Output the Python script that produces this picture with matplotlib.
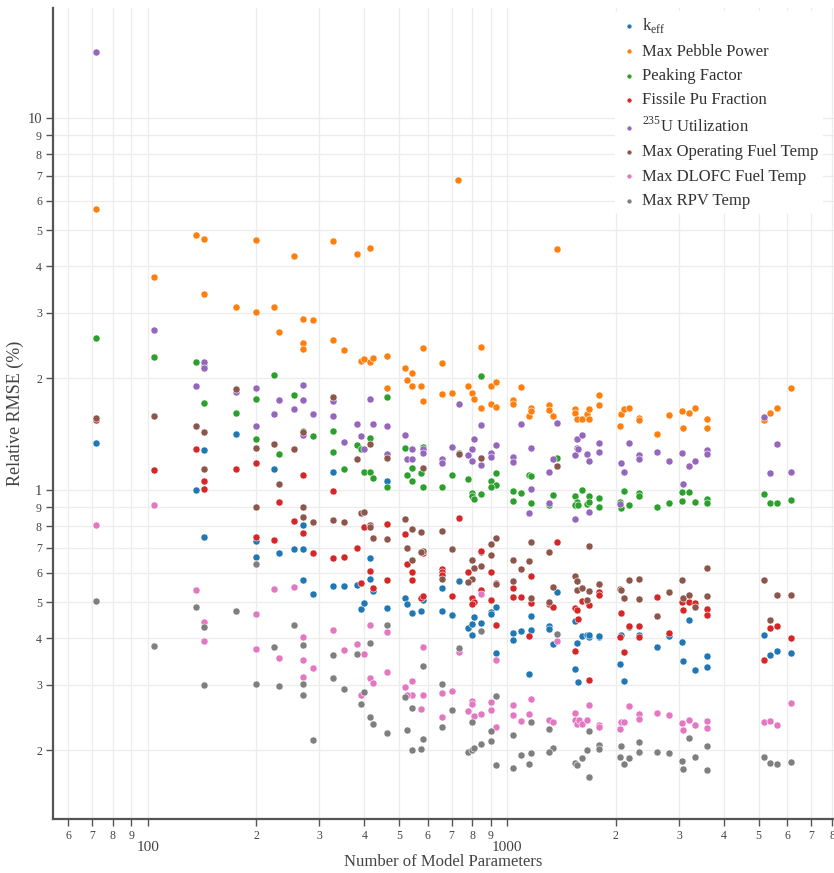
import numpy as np
import matplotlib
matplotlib.use("Agg")
import matplotlib.pyplot as plt
from matplotlib.ticker import LogLocator, FuncFormatter

plt.rcParams['font.family'] = ['Liberation Serif', 'DejaVu Serif']
plt.rcParams['mathtext.fontset'] = 'custom'
plt.rcParams['mathtext.rm'] = 'Liberation Serif'

# (number of model parameters, relative RMSE %)
keff = [(72, 1.34), (136, 1.00), (143, 1.28), (143, 0.746), (176, 1.42), (200, 0.731), (200, 0.662),
        (224, 1.14), (231, 0.678), (255, 0.695), (271, 0.695), (271, 0.804), (271, 0.574), (288, 0.526),
        (327, 1.12), (327, 0.551), (351, 0.553), (383, 0.557), (391, 0.479), (399, 0.498), (415, 0.656),
        (415, 0.578), (423, 0.536), (462, 1.06), (462, 0.481), (518, 0.512), (526, 0.494), (543, 0.466),
        (575, 0.474), (583, 0.506), (656, 0.546), (656, 0.474), (702, 0.462), (734, 0.570), (775, 0.426),
        (798, 0.436), (798, 0.408), (806, 0.456), (845, 0.681), (845, 0.440), (901, 0.471), (901, 0.465),
        (927, 0.485), (927, 0.365), (1037, 0.414), (1037, 0.395), (1092, 0.418), (1147, 0.321),
        (1164, 0.421), (1164, 0.460), (1306, 0.431), (1306, 0.422), (1340, 0.386), (1372, 0.532),
        (1540, 0.445), (1540, 0.330), (1563, 0.388), (1573, 0.305), (1610, 0.405), (1663, 0.408),
        (1688, 0.403), (1688, 0.407), (1799, 0.403), (1799, 0.406), (2058, 0.340), (2077, 0.408),
        (2111, 0.306), (2186, 0.429), (2324, 0.408), (2615, 0.378), (2811, 0.405), (3069, 0.391),
        (3089, 0.347), (3194, 0.447), (3327, 0.328), (3601, 0.357), (3601, 0.334), (5164, 0.408),
        (5366, 0.360), (5623, 0.370), (6151, 0.365)]

pebble_power = [(72, 5.72), (104, 3.74), (136, 4.85), (143, 4.74), (143, 3.36), (176, 3.10), (200, 4.72),
                (200, 3.01), (224, 3.10), (231, 2.67), (255, 4.26), (271, 2.89), (271, 2.48), (271, 2.39),
                (288, 2.86), (327, 4.67), (327, 2.54), (351, 2.38), (383, 4.31), (391, 2.23), (399, 2.25),
                (415, 4.49), (415, 2.21), (423, 2.27), (462, 2.30), (462, 1.88), (518, 2.13), (526, 1.98),
                (543, 2.07), (543, 1.90), (575, 1.90), (583, 2.41), (583, 1.74), (656, 2.20), (656, 1.81),
                (702, 1.83), (728, 6.81), (775, 1.91), (798, 1.82), (806, 1.76), (845, 2.42), (845, 1.66),
                (901, 1.91), (901, 1.71), (927, 1.95), (927, 1.67), (1037, 1.75), (1037, 1.70), (1092, 1.89),
                (1147, 1.58), (1164, 1.66), (1164, 1.63), (1306, 1.69), (1306, 1.64), (1340, 1.58),
                (1372, 4.44), (1540, 1.65), (1540, 1.61), (1563, 1.55), (1610, 1.55), (1663, 1.60),
                (1688, 1.65), (1688, 1.55), (1799, 1.80), (1799, 1.69), (2058, 1.49), (2077, 1.60),
                (2111, 1.65), (2186, 1.66), (2324, 1.56), (2324, 1.54), (2615, 1.42), (2811, 1.59),
                (3069, 1.63), (3089, 1.47), (3194, 1.61), (3327, 1.66), (3601, 1.55), (3601, 1.47),
                (5164, 1.54), (5366, 1.61), (5623, 1.66), (6151, 1.88)]

peaking = [(72, 2.56), (104, 2.28), (136, 2.21), (143, 2.16), (143, 1.72), (176, 1.61), (200, 1.76),
           (200, 1.37), (224, 2.04), (231, 1.25), (255, 1.80), (271, 1.44), (288, 1.40), (327, 1.44),
           (327, 1.27), (351, 1.14), (383, 1.32), (391, 1.29), (415, 1.38), (399, 1.12), (415, 1.12),
           (423, 1.08), (462, 1.78), (462, 1.02), (518, 1.30), (543, 1.15), (526, 1.10), (543, 1.06),
           (575, 1.11), (583, 1.31), (583, 1.02), (656, 1.02), (702, 1.10), (734, 1.26), (775, 1.07),
           (798, 0.983), (798, 0.963), (806, 0.948), (845, 0.977), (845, 2.03), (901, 1.06), (927, 1.11),
           (927, 1.03), (901, 1.02), (1037, 0.992), (1037, 0.936), (1092, 0.982), (1147, 1.10),
           (1164, 1.09), (1164, 0.921), (1306, 0.911), (1340, 0.968), (1372, 1.22), (1540, 0.963),
           (1563, 0.928), (1540, 0.911), (1573, 0.911), (1610, 0.998), (1663, 0.915), (1688, 0.965),
           (1688, 0.930), (1799, 0.952), (1799, 0.899), (2111, 0.994), (2058, 0.932), (2077, 0.893),
           (2186, 0.911), (2324, 0.980), (2324, 0.963), (2615, 0.900), (2811, 0.924), (3069, 0.986),
           (3194, 0.988), (3069, 0.936), (3327, 0.928), (3601, 0.948), (3601, 0.923), (5164, 0.976),
           (5366, 0.923), (5623, 0.923), (6151, 0.940)]

pu_fraction = [(72, 1.54), (104, 1.13), (136, 1.29), (143, 1.06), (143, 1.01), (176, 1.14), (200, 1.18),
               (271, 1.10), (231, 0.932), (255, 0.827), (271, 0.766), (200, 0.749), (224, 0.734),
               (288, 0.678), (327, 0.992), (327, 0.656), (351, 0.663), (383, 0.699), (399, 0.795),
               (415, 0.807), (415, 0.606), (391, 0.562), (423, 0.546), (462, 0.812), (462, 0.573),
               (518, 0.763), (526, 0.633), (543, 0.603), (543, 0.573), (583, 0.676), (575, 0.513),
               (583, 0.519), (656, 0.614), (656, 0.603), (656, 0.592), (702, 0.519), (734, 0.842),
               (775, 0.603), (845, 0.688), (798, 0.513), (806, 0.500), (798, 0.495), (845, 0.538),
               (901, 0.604), (927, 0.563), (901, 0.508), (927, 0.434), (1037, 0.544), (1037, 0.515),
               (1092, 0.515), (1164, 0.587), (1164, 0.496), (1147, 0.406), (1372, 0.725), (1306, 0.494),
               (1340, 0.485), (1540, 0.481), (1563, 0.475), (1573, 0.450), (1610, 0.502), (1663, 0.503),
               (1688, 0.491), (1799, 0.531), (1799, 0.523), (1540, 0.369), (1688, 0.308), (2077, 0.466),
               (2186, 0.432), (2324, 0.432), (2058, 0.402), (2111, 0.367), (2324, 0.404), (2615, 0.517),
               (2811, 0.414), (3069, 0.499), (3194, 0.499), (3327, 0.496), (3089, 0.477), (3601, 0.480),
               (3601, 0.462), (5164, 0.349), (5366, 0.426), (5623, 0.432), (6151, 0.400)]

u235_util = [(72, 15.1), (104, 2.69), (143, 2.21), (143, 2.13), (136, 1.90), (176, 1.84), (200, 1.88),
             (271, 1.92), (231, 1.75), (271, 1.75), (255, 1.65), (224, 1.60), (288, 1.60), (200, 1.49),
             (271, 1.41), (327, 1.74), (327, 1.58), (351, 1.35), (383, 1.51), (391, 1.40), (399, 1.29),
             (415, 1.76), (423, 1.51), (462, 1.49), (462, 1.25), (518, 1.41), (526, 1.21), (543, 1.21),
             (543, 1.29), (583, 1.29), (583, 1.26), (656, 1.21), (656, 1.18), (702, 1.31), (734, 1.71),
             (775, 1.24), (798, 1.29), (798, 1.20), (806, 1.37), (845, 1.50), (845, 1.17), (901, 1.26),
             (901, 1.23), (927, 1.32), (1037, 1.23), (1037, 1.19), (1092, 1.51), (1164, 1.30),
             (1164, 1.01), (1147, 0.867), (1306, 1.12), (1340, 1.21), (1372, 1.52), (1306, 0.921),
             (1540, 1.24), (1563, 1.37), (1563, 1.30), (1540, 0.836), (1610, 1.41), (1573, 1.29),
             (1663, 1.25), (1688, 1.20), (1688, 0.873), (1799, 1.34), (1799, 1.27), (2077, 1.18),
             (2111, 1.12), (2186, 1.34), (2324, 1.24), (2324, 1.21), (2058, 0.917), (2615, 1.27),
             (2811, 1.20), (3069, 1.26), (3194, 1.16), (3327, 1.20), (3601, 1.28), (3601, 1.25),
             (3089, 1.04), (5164, 1.57), (5623, 1.33), (5366, 1.11), (6151, 1.12)]

op_fuel_temp = [(72, 1.56), (104, 1.58), (136, 1.49), (143, 1.43), (143, 1.14), (176, 1.87), (200, 1.30),
                (224, 1.33), (255, 1.29), (271, 1.43), (231, 1.04), (200, 0.900), (271, 0.900),
                (271, 0.845), (288, 0.822), (327, 1.78), (383, 1.21), (415, 1.33), (462, 1.22), (583, 1.15),
                (734, 1.25), (845, 1.22), (1372, 1.16), (327, 0.832), (351, 0.820), (391, 0.866),
                (399, 0.873), (415, 0.805), (415, 0.794), (423, 0.743), (462, 0.740), (518, 0.837),
                (543, 0.784), (575, 0.772), (656, 0.776), (526, 0.700), (543, 0.650), (583, 0.686),
                (575, 0.683), (656, 0.576), (702, 0.695), (798, 0.648), (806, 0.616), (845, 0.625),
                (798, 0.578), (775, 0.565), (901, 0.716), (927, 0.743), (901, 0.669), (927, 0.559),
                (1037, 0.648), (1037, 0.568), (1092, 0.612), (1147, 0.646), (1164, 0.725), (1164, 0.512),
                (1306, 0.681), (1340, 0.550), (1306, 0.501), (1540, 0.587), (1563, 0.568), (1563, 0.538),
                (1610, 0.544), (1688, 0.536), (1663, 0.508), (1799, 0.560), (1688, 0.706), (2058, 0.541),
                (2077, 0.540), (2111, 0.513), (2186, 0.575), (2324, 0.576), (2324, 0.509), (2615, 0.460),
                (2811, 0.532), (3069, 0.572), (3089, 0.512), (3194, 0.521), (3327, 0.484), (3601, 0.519),
                (3601, 0.618), (5164, 0.572), (5366, 0.448), (5623, 0.522), (6151, 0.522)]

dlofc_fuel_temp = [(72, 0.807), (104, 0.913), (136, 0.539), (143, 0.441), (143, 0.393), (176, 0.474),
                   (200, 0.464), (200, 0.374), (224, 0.542), (231, 0.354), (255, 0.549), (271, 0.402),
                   (271, 0.349), (271, 0.314), (288, 0.333), (327, 0.420), (351, 0.371), (383, 0.385),
                   (399, 0.362), (415, 0.435), (462, 0.415), (415, 0.312), (423, 0.303), (391, 0.282),
                   (462, 0.325), (518, 0.295), (543, 0.306), (543, 0.281), (526, 0.281), (583, 0.281),
                   (575, 0.258), (583, 0.379), (656, 0.285), (702, 0.289), (656, 0.246), (734, 0.368),
                   (798, 0.271), (798, 0.266), (775, 0.254), (806, 0.247), (845, 0.250), (845, 0.525),
                   (901, 0.270), (901, 0.256), (927, 0.350), (927, 0.230), (1037, 0.265), (1037, 0.248),
                   (1092, 0.240), (1147, 0.250), (1164, 0.274), (1306, 0.241), (1340, 0.238),
                   (1372, 0.393), (1540, 0.251), (1540, 0.241), (1563, 0.235), (1587, 0.241), (1610, 0.235),
                   (1663, 0.241), (1688, 0.264), (1799, 0.233), (1799, 0.230), (2058, 0.228), (2077, 0.238),
                   (2111, 0.238), (2186, 0.263), (2324, 0.250), (2324, 0.243), (2615, 0.252), (2811, 0.249),
                   (3069, 0.236), (3089, 0.227), (3194, 0.241), (3327, 0.234), (3601, 0.240), (3601, 0.229),
                   (5164, 0.238), (5366, 0.239), (5623, 0.234), (6151, 0.267)]

rpv_temp = [(72, 0.503), (104, 0.381), (136, 0.484), (143, 0.428), (143, 0.299), (176, 0.473), (200, 0.633),
            (200, 0.302), (224, 0.379), (231, 0.298), (255, 0.434), (271, 0.383), (271, 0.302),
            (271, 0.282), (288, 0.213), (327, 0.361), (327, 0.312), (351, 0.291), (383, 0.362),
            (415, 0.388), (399, 0.286), (391, 0.266), (415, 0.245), (423, 0.235), (462, 0.435),
            (462, 0.222), (518, 0.278), (583, 0.336), (543, 0.260), (526, 0.226), (583, 0.214),
            (543, 0.200), (575, 0.201), (656, 0.302), (656, 0.231), (702, 0.256), (734, 0.376),
            (798, 0.238), (845, 0.419), (775, 0.197), (798, 0.200), (806, 0.203), (845, 0.208),
            (901, 0.225), (901, 0.211), (927, 0.279), (927, 0.182), (1037, 0.219), (1037, 0.179),
            (1092, 0.194), (1164, 0.238), (1147, 0.183), (1164, 0.196), (1306, 0.228), (1340, 0.202),
            (1306, 0.197), (1372, 0.411), (1540, 0.185), (1563, 0.182), (1610, 0.190), (1663, 0.200),
            (1688, 0.225), (1688, 0.169), (1799, 0.206), (1799, 0.201), (2077, 0.205), (2058, 0.192),
            (2111, 0.184), (2186, 0.190), (2324, 0.210), (2324, 0.198), (2615, 0.198), (2811, 0.196),
            (3194, 0.215), (3069, 0.187), (3089, 0.178), (3327, 0.192), (3601, 0.205), (3601, 0.177),
            (5164, 0.191), (5366, 0.185), (5623, 0.183), (6151, 0.186)]

series = [
    (r'k$_\mathregular{eff}$', keff, '#1f77b4'),
    ('Max Pebble Power', pebble_power, '#ff7f0e'),
    ('Peaking Factor', peaking, '#2ca02c'),
    ('Fissile Pu Fraction', pu_fraction, '#d62728'),
    (r'$^\mathregular{235}$U Utilization', u235_util, '#9467bd'),
    ('Max Operating Fuel Temp', op_fuel_temp, '#8c564b'),
    ('Max DLOFC Fuel Temp', dlofc_fuel_temp, '#e377c2'),
    ('Max RPV Temp', rpv_temp, '#7f7f7f'),
]

fig = plt.figure(figsize=(8.34, 8.73), dpi=100)
ax = fig.add_axes([53 / 834, 54 / 873, 781 / 834, 811 / 873])

for name, pts, col in series:
    xs = [p[0] for p in pts]
    ys = [p[1] for p in pts]
    ax.scatter(xs, ys, s=26, color=col, edgecolors='white', linewidths=0.4, label=name, zorder=3)

ax.set_xscale('log')
ax.set_yscale('log')
ax.set_xlim(54.5, 8100)
ax.set_ylim(0.1305, 19.8)


def lead_digit(v, pos):
    e = np.floor(np.log10(v) + 1e-9)
    return '%d' % round(v / 10 ** e)


def major_fmt(v, pos):
    return '%g' % v


for axis in (ax.xaxis, ax.yaxis):
    axis.set_major_locator(LogLocator(base=10, subs=(1.0,)))
    axis.set_minor_locator(LogLocator(base=10, subs=np.arange(2, 10), numticks=20))
    axis.set_major_formatter(FuncFormatter(major_fmt))
    axis.set_minor_formatter(FuncFormatter(lead_digit))

ax.grid(True, which='both', color='#ececec', linewidth=0.9)
ax.set_axisbelow(True)

for side in ('top', 'right'):
    ax.spines[side].set_visible(False)
for side in ('left', 'bottom'):
    ax.spines[side].set_color('#555555')
    ax.spines[side].set_linewidth(1.6)

ax.tick_params(which='both', direction='out', length=5, width=1, color='#555555', labelcolor='#444444')
ax.tick_params(axis='x', which='minor', labelsize=8.5, pad=3)
ax.tick_params(axis='x', which='major', labelsize=11, pad=11)
ax.tick_params(axis='y', which='minor', labelsize=8.5, pad=3)
ax.tick_params(axis='y', which='major', labelsize=10.5, pad=3)

ax.set_xlabel('Number of Model Parameters', fontsize=12, color='#444444', labelpad=0)
ax.set_ylabel('Relative RMSE (%)', fontsize=13, color='#444444', labelpad=2)

leg = ax.legend(loc='upper left', bbox_to_anchor=(607 / 834, 1 - 3 / 873), bbox_transform=fig.transFigure,
                frameon=True, fontsize=12, markerscale=0.7, handletextpad=0.3, labelspacing=0.5,
                borderpad=0.3, handlelength=1.0)
leg.get_frame().set_facecolor('white')
leg.get_frame().set_edgecolor('none')
leg.get_frame().set_alpha(1.0)
for t in leg.get_texts():
    t.set_color('#333333')

fig.savefig('out.png', dpi=100)
